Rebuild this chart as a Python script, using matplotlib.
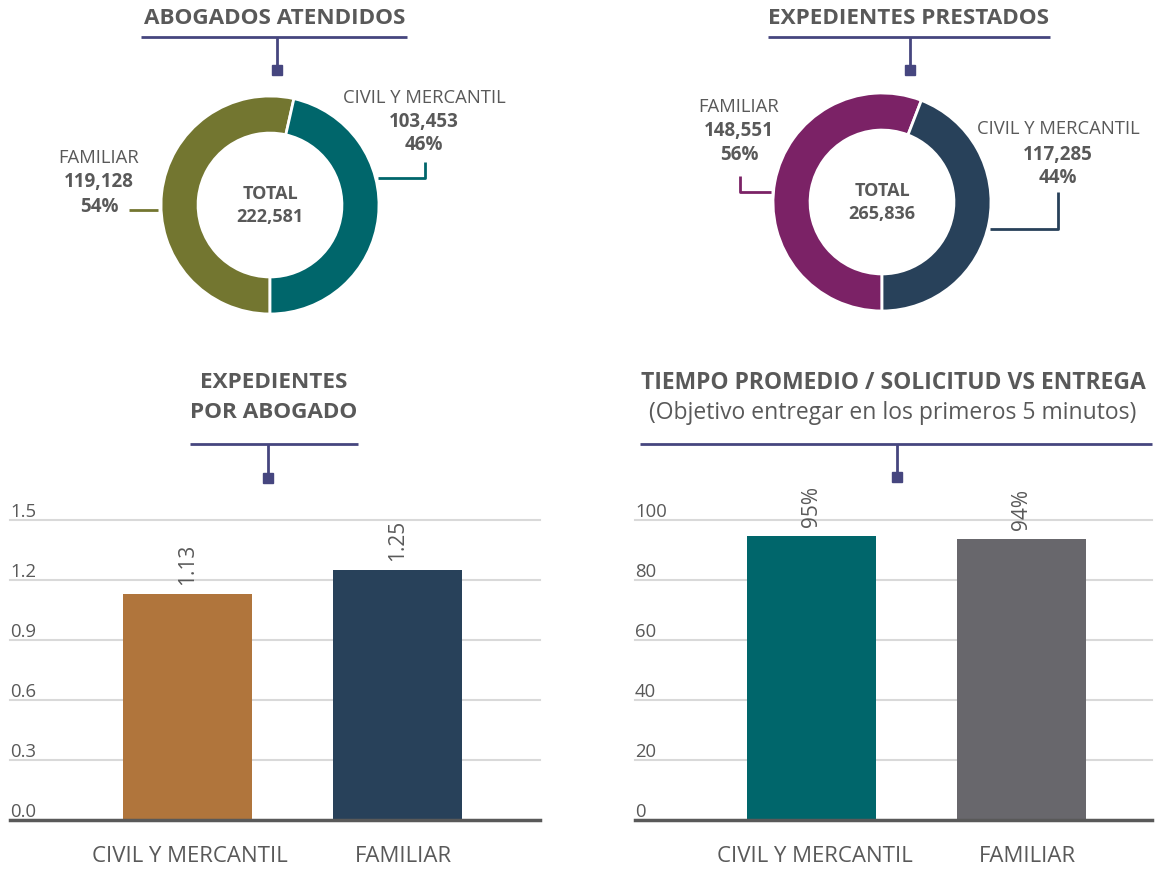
import matplotlib.pyplot as plt
from matplotlib.lines import Line2D
from matplotlib.patches import Rectangle
from matplotlib.transforms import blended_transform_factory

plt.rcParams['font.family'] = ['Open Sans', 'DejaVu Sans']

# Data
donut_cats = ["FAMILIAR", "CIVIL Y MERCANTIL"]
lawyers_vals = [119128, 103453]
files_vals = [148551, 117285]

bar_cats = ["CIVIL Y MERCANTIL", "FAMILIAR"]
ratio_vals = [1.13, 1.25]
ontime_vals = [94.7, 93.6]

# Colors
TXT = "#595959"
ACC = "#46467F"
lawyers_colors = ["#737630", "#00666B"]
files_colors = ["#7B2266", "#28415A"]
ratio_colors = ["#B0753C", "#28415A"]
ontime_colors = ["#00666B", "#68676C"]

W, H = 1163, 870
fig = plt.figure(figsize=(W / 100, H / 100), dpi=100)


def fx(x):
    return x / W


def fy(y):
    return 1 - y / H


def axes_px(x0, y0, x1, y1):
    return fig.add_axes([x0 / W, 1 - y1 / H, (x1 - x0) / W, (y1 - y0) / H])


def line(xs, ys, color, lw=2):
    fig.add_artist(Line2D([fx(x) for x in xs], [fy(y) for y in ys],
                          color=color, lw=lw, solid_capstyle='butt'))


def header(x0, x1, y, xs, ysq):
    line([x0, x1], [y, y], ACC, 2)
    line([xs, xs], [y, ysq], ACC, 2)
    fig.add_artist(Rectangle((fx(xs - 5), fy(ysq + 10)), 10 / W, 10 / H,
                             transform=fig.transFigure, color=ACC))


def txt(x, y, s, size, bold=False, color=TXT, **kw):
    fig.text(fx(x), fy(y), s, ha='center', va='center', fontsize=size,
             fontweight='bold' if bold else 'normal', color=color, **kw)


def donut(cx, cy, r, vals, colors):
    ax = axes_px(cx - r, cy - r, cx + r, cy + r)
    ax.pie(vals, colors=colors, startangle=-90, counterclock=False,
           wedgeprops=dict(width=0.34, edgecolor='white', linewidth=2))
    ax.set_xlim(-1, 1)
    ax.set_ylim(-1, 1)
    total = sum(vals)
    txt(cx, cy - 12, "TOTAL", 13, True)
    txt(cx, cy + 11, f"{total:,}", 13, True)
    return total


# Top-left donut
header(141, 407, 38, 277, 66)
txt(275, 18, "ABOGADOS ATENDIDOS", 16.2, True)
total1 = donut(270, 206, 109, lawyers_vals, lawyers_colors)
txt(424, 98, donut_cats[1], 13.3)
txt(424, 122, f"{lawyers_vals[1]:,}", 13.5, True)
txt(424, 145, f"{lawyers_vals[1] / total1:.0%}", 13.5, True)
line([378, 425, 425], [179, 179, 163], lawyers_colors[1], 2)
txt(99, 158, donut_cats[0], 13.3)
txt(99, 182, f"{lawyers_vals[0]:,}", 13.5, True)
txt(99, 207, f"{lawyers_vals[0] / total1:.0%}", 13.5, True)
line([129, 158], [211, 211], lawyers_colors[0], 2)

# Top-right donut
header(768, 1050, 38, 910, 66)
txt(909, 18, "EXPEDIENTES PRESTADOS", 16.2, True)
total2 = donut(882, 203, 109, files_vals, files_colors)
txt(1058, 129, donut_cats[1], 13.3)
txt(1058, 155, f"{files_vals[1]:,}", 13.5, True)
txt(1058, 178, f"{files_vals[1] / total2:.0%}", 13.5, True)
line([990, 1058, 1058], [230, 230, 193], files_colors[1], 2)
txt(739, 107, donut_cats[0], 13.3)
txt(739, 131, f"{files_vals[0]:,}", 13.5, True)
txt(739, 155, f"{files_vals[0] / total2:.0%}", 13.5, True)
line([740, 740, 771], [177, 193, 193], files_colors[0], 2)


def bar_panel(x0, x1, xlim, vals, colors, ymax, ticks, tick_fmt, val_fmt):
    ax = axes_px(x0, 521, x1, 821)
    xs = range(len(vals))
    ax.bar(xs, vals, width=0.614, color=colors, zorder=2)
    ax.set_xlim(*xlim)
    ax.set_ylim(0, ymax)
    for s in ax.spines.values():
        s.set_visible(False)
    ax.set_xticks([])
    ax.set_yticks([])
    tr = blended_transform_factory(ax.transAxes, ax.transData)
    for t in ticks:
        if t == 0:
            ax.axhline(0, color=TXT, lw=2.5, zorder=3, clip_on=False)
        else:
            ax.axhline(t, color="#D9D9D9", lw=1.5, zorder=1, clip_on=False)
        ax.text(0.0, t, tick_fmt(t), transform=tr, ha='left', va='bottom',
                fontsize=13.3, color=TXT)
    for x, v in zip(xs, vals):
        ax.annotate(val_fmt(v), (x, v), xytext=(0, 7), textcoords='offset points',
                    rotation=90, ha='center', va='bottom', fontsize=15, color=TXT)
    return ax


# Bottom-left bars
header(190, 358, 445, 268, 474)
txt(274, 383, "EXPEDIENTES", 16.2, True)
txt(274, 413, "POR ABOGADO", 16.2, True)
bar_panel(10, 540, (-0.845, 1.68), ratio_vals, ratio_colors, 1.5,
          [0, 0.3, 0.6, 0.9, 1.2, 1.5], lambda t: f"{t:.1f}", lambda v: f"{v:.2f}")
txt(190, 857, bar_cats[0], 16)
txt(403, 857, bar_cats[1], 16)

# Bottom-right bars
header(640, 1152, 445, 897, 473)
txt(893, 383, "TIEMPO PROMEDIO / SOLICITUD VS ENTREGA", 16.5, True)
txt(893, 413, "(Objetivo entregar en los primeros 5 minutos)", 16.5)
bar_panel(635, 1152, (-0.84, 1.62), ontime_vals, ontime_colors, 100,
          [0, 20, 40, 60, 80, 100], lambda t: f"{t}", lambda v: f"{v:.0f}%")
txt(815, 857, bar_cats[0], 16)
txt(1027, 857, bar_cats[1], 16)

fig.savefig("out.png", dpi=100)
